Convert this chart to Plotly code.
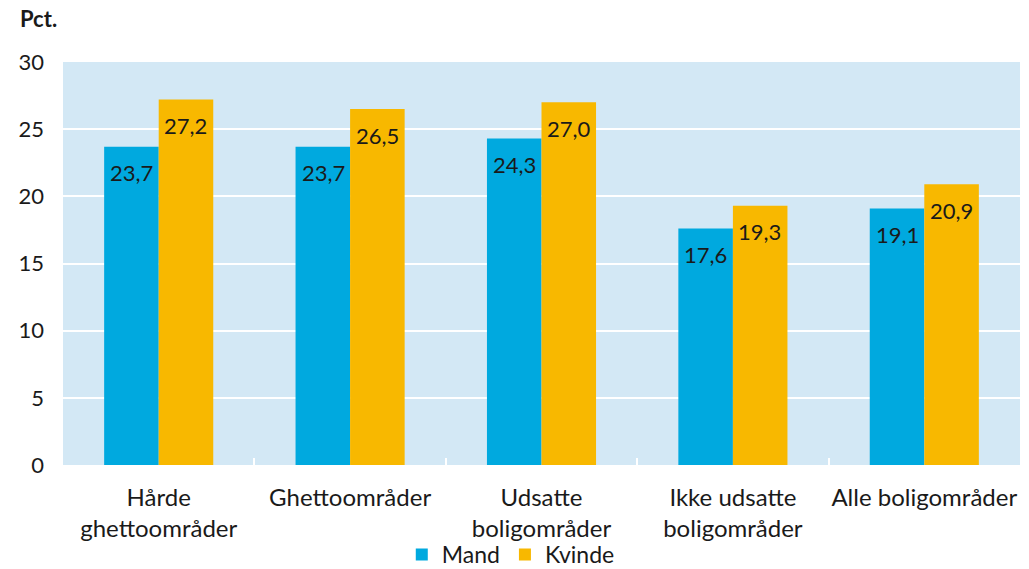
import plotly.graph_objects as go

categories = ["Hårde<br>ghettoområder", "Ghettoområder", "Udsatte<br>boligområder",
              "Ikke udsatte<br>boligområder", "Alle boligområder"]
mand = [23.7, 23.7, 24.3, 17.6, 19.1]
kvinde = [27.2, 26.5, 27.0, 19.3, 20.9]
series_names = ["Mand", "Kvinde"]
y_ticks = [0, 5, 10, 15, 20, 25, 30]

BLUE = "#00A9DF"
YELLOW = "#F8B800"
BG = "#D3E8F5"
TXT = "#1a1a1a"
FONT = "Lato"

fig = go.Figure()
fig.add_trace(go.Bar(x=categories, y=mand, name=series_names[0], marker_color=BLUE,
                     marker_line_width=0))
fig.add_trace(go.Bar(x=categories, y=kvinde, name=series_names[1], marker_color=YELLOW,
                     marker_line_width=0))

def fmt(v):
    return f"{v:.1f}".replace(".", ",")

for vals, shift in ((mand, -27), (kvinde, 27)):
    for c, v in zip(categories, vals):
        fig.add_annotation(x=c, y=v, xref="x", yref="y", text=fmt(v), showarrow=False,
                           xshift=shift, yshift=-26, font=dict(size=22, color=TXT, family=FONT))

fig.add_annotation(text="<b>Pct.</b>", xref="paper", yref="paper", x=-0.047, y=1.109,
                   xanchor="left", yanchor="middle", showarrow=False,
                   font=dict(size=22, color=TXT, family=FONT))

fig.update_layout(
    width=1029, height=569,
    margin=dict(l=63, r=9, t=62, b=104, autoexpand=False),
    paper_bgcolor="white", plot_bgcolor=BG,
    barmode="group", bargap=0.43, bargroupgap=0,
    font=dict(family=FONT, size=20, color=TXT),
    showlegend=True,
    legend=dict(orientation="h", x=0.354, xanchor="left", y=-0.222, yanchor="middle",
                bgcolor="rgba(0,0,0,0)",
                font=dict(size=23, color=TXT, family=FONT), itemwidth=30,
                traceorder="normal"),
)
fig.update_xaxes(showgrid=False, zeroline=False, showline=False, automargin=False,
                 ticks="inside", tickson="boundaries", ticklen=7, tickcolor="white", tickwidth=2,
                 ticklabelstandoff=16, tickangle=0,
                 tickfont=dict(size=24, color=TXT, family=FONT))
fig.update_yaxes(range=[0, 30], tickvals=y_ticks, showgrid=True, gridcolor="white", gridwidth=2,
                 zeroline=False, showline=False, ticks="", ticklabelstandoff=18, automargin=False,
                 tickfont=dict(size=22, color=TXT, family=FONT))

fig.write_html("out.html", config={"displayModeBar": False},
               post_script="document.body.style.margin='0';document.body.style.overflow='hidden';")
